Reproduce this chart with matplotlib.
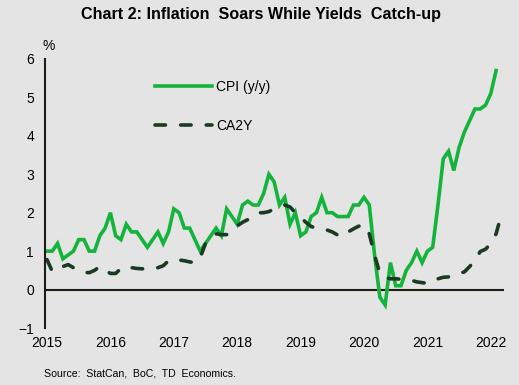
import matplotlib
matplotlib.use("Agg")
import matplotlib.pyplot as plt
import numpy as np

plt.rcParams["font.family"] = ["Liberation Sans", "DejaVu Sans"]

# monthly data, Jan 2015 onwards
cpi = [
    1.0, 1.0, 1.2, 0.8, 0.9, 1.0, 1.3, 1.3, 1.0, 1.0, 1.4, 1.6,
    2.0, 1.4, 1.3, 1.7, 1.5, 1.5, 1.3, 1.1, 1.3, 1.5, 1.2, 1.5,
    2.1, 2.0, 1.6, 1.6, 1.3, 1.0, 1.2, 1.4, 1.6, 1.4, 2.1, 1.9,
    1.7, 2.2, 2.3, 2.2, 2.2, 2.5, 3.0, 2.8, 2.2, 2.4, 1.7, 2.0,
    1.4, 1.5, 1.9, 2.0, 2.4, 2.0, 2.0, 1.9, 1.9, 1.9, 2.2, 2.2,
    2.4, 2.2, 0.9, -0.2, -0.4, 0.7, 0.1, 0.1, 0.5, 0.7, 1.0, 0.7,
    1.0, 1.1, 2.2, 3.4, 3.6, 3.1, 3.7, 4.1, 4.4, 4.7, 4.7, 4.8,
    5.1, 5.7,
]
ca2y = [
    0.78, 0.47, 0.52, 0.60, 0.65, 0.57, 0.50, 0.45, 0.44, 0.50, 0.60, 0.50,
    0.42, 0.42, 0.55, 0.60, 0.57, 0.55, 0.54, 0.55, 0.55, 0.57, 0.62, 0.75,
    0.78, 0.77, 0.75, 0.72, 0.70, 0.83, 1.20, 1.30, 1.45, 1.43, 1.43, 1.55,
    1.66, 1.75, 1.82, 1.92, 2.00, 2.00, 2.03, 2.10, 2.15, 2.20, 2.15, 2.00,
    1.88, 1.75, 1.64, 1.60, 1.59, 1.55, 1.50, 1.42, 1.38, 1.50, 1.58, 1.65,
    1.68, 1.45, 0.90, 0.42, 0.32, 0.28, 0.28, 0.27, 0.25, 0.24, 0.20, 0.18,
    0.16, 0.20, 0.28, 0.32, 0.33, 0.36, 0.42, 0.46, 0.60, 0.75, 0.99, 1.05,
    1.20, 1.45, 1.95,
]
years = list(range(2015, 2023))

t_cpi = 2015 + np.arange(len(cpi)) / 12
t_2y = 2015 + np.arange(len(ca2y)) / 12

bg = "#e4e4e4"
axcol = "#1e1e16"

fig = plt.figure(figsize=(5.19, 3.85), dpi=100, facecolor=bg)
ax = fig.add_axes([45 / 519, 1 - 328 / 385, (504 - 45) / 519, (328 - 59) / 385])
ax.set_facecolor(bg)

ax.plot(t_cpi, cpi, color="#14b43c", lw=2.6, solid_joinstyle="miter", label="CPI (y/y)")
ax.plot(t_2y, ca2y, color="#1a3a22", lw=2.6, linestyle=(0, (2.9, 4.2)),
        dash_capstyle="round", label="CA2Y")

ax.axhline(0, color=axcol, lw=1.5, zorder=1)
ax.set_xlim(2015 - 2 / 63.4, 2015 + 457 / 63.4)
ax.set_ylim(-1, 6)
ax.set_yticks(range(-1, 7))
ax.set_xticks(years)
ax.set_xticklabels([str(y) for y in years])
ax.tick_params(axis="both", length=0, labelsize=10, colors="black")
ax.tick_params(axis="y", pad=8)
ax.tick_params(axis="x", pad=6)
for s in ["top", "right", "bottom"]:
    ax.spines[s].set_visible(False)
ax.spines["left"].set_color(axcol)
ax.spines["left"].set_linewidth(1.5)

fig.text(49 / 519, 1 - 46 / 385, "%", ha="center", va="center", fontsize=10)
fig.text(261 / 519, 1 - 15 / 385, "Chart 2: Inflation  Soars While Yields  Catch-up",
         ha="center", va="center", fontsize=11.6, fontweight="bold")
fig.text(44 / 519, 1 - 374 / 385, "Source:  StatCan,  BoC,  TD  Economics.",
         ha="left", va="center", fontsize=7.6)

ax.legend(loc="upper left", bbox_to_anchor=(155 / 519, 1 - 80 / 385),
          bbox_transform=fig.transFigure, frameon=False, fontsize=10,
          handlelength=4.1, handletextpad=0.3, labelspacing=1.8,
          borderpad=0, borderaxespad=0)

fig.savefig("out.png", dpi=100, facecolor=bg)
